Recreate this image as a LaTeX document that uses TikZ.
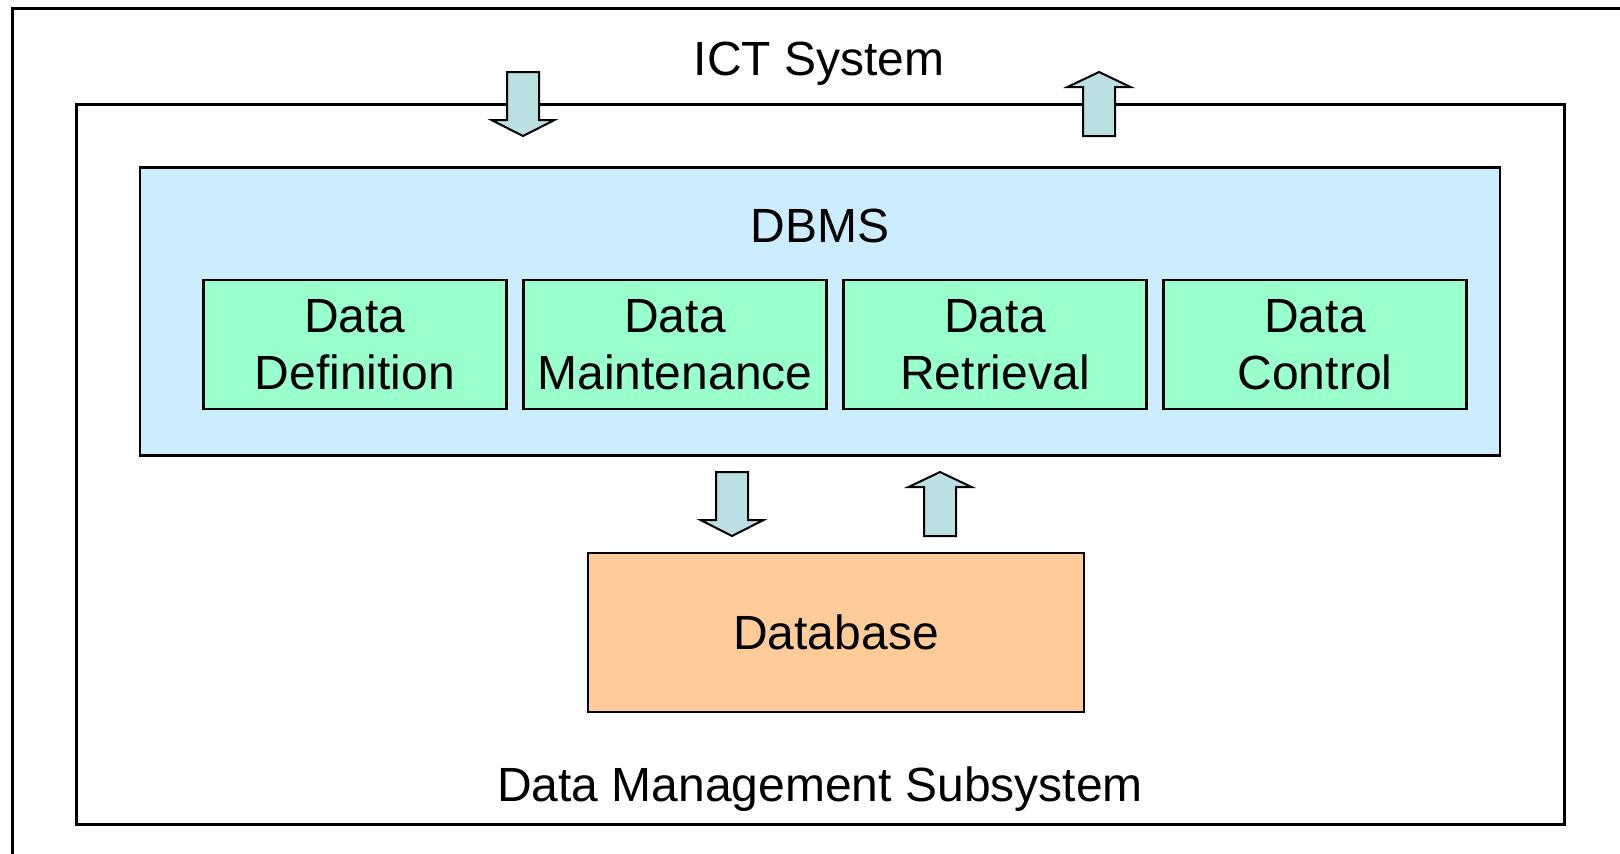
\documentclass[tikz,border=0pt]{standalone}
\usepackage{fontspec}
\setmainfont{Liberation Sans}
\definecolor{dbmsblue}{HTML}{CCECFF}
\definecolor{funcgreen}{HTML}{99FFCC}
\definecolor{dbfill}{HTML}{FFCC99}
\definecolor{flowfill}{HTML}{BBE0E3}
\tikzset{
  frame/.style={draw=black, line width=1.5pt},
  panel/.style={draw=black, line width=1.1pt, inner sep=0pt},
  funcbox/.style={panel, fill=funcgreen, minimum width=151.5pt, minimum height=64.5pt,
    align=center, font=\fontsize{24}{28.5}\selectfont},
  title/.style={inner sep=0pt, anchor=base, font=\fontsize{24}{28.8}\selectfont},
  flowshape/.style={fill=flowfill, draw=black, line width=1pt, line join=miter},
  pics/flowdown/.style={code={
    \draw[flowshape] (-16,0) -- (16,0) -- (16,48) -- (31.5,48) -- (0,64)
      -- (-31.5,48) -- (-16,48) -- cycle;}},
  pics/flowup/.style={code={
    \draw[flowshape] (0,0) -- (31.5,15) -- (16,15) -- (16,64) -- (-16,64)
      -- (-16,15) -- (-31.5,15) -- cycle;}},
}
\begin{document}
\begin{tikzpicture}[x=0.5pt, y=-0.5pt]
  \useasboundingbox (0,0) rectangle (1620,853);
  \clip (0,0) rectangle (1620,853);
  \fill[white] (0,0) rectangle (1620,853);

  % outer ICT system frame (runs past the page edge)
  \draw[frame] (12,8) rectangle (1700,950);
  \node[title] (ict) at (819,75) {ICT System};

  % data management subsystem frame
  \node[frame, minimum width=744pt, minimum height=360pt, inner sep=0pt]
    (subsys) at (820,464) {};
  \node[title] (subsyslabel) at (820,801) {Data Management Subsystem};

  % DBMS panel and its functions
  \node[panel, fill=dbmsblue, minimum width=680pt, minimum height=144pt]
    (dbms) at (820,311.5) {};
  \node[title] (dbmslabel) at (820,242) {DBMS};
  \node[funcbox] (def)  at (355,344.5)  {Data\\Definition};
  \node[funcbox] (main) at (675,344.5)  {Data\\Maintenance};
  \node[funcbox] (ret)  at (995,344.5)  {Data\\Retrieval};
  \node[funcbox] (ctrl) at (1315,344.5) {Data\\Control};

  % database
  \node[panel, fill=dbfill, minimum width=248pt, minimum height=79.5pt]
    (db) at (836,632.5) {};
  \node[title] (dblabel) at (836,649) {Database};

  % flows between the ICT system and the subsystem
  \pic at (523,72) {flowdown};
  \pic at (1099,72) {flowup};

  % flows between the DBMS and the database
  \pic at (732,472) {flowdown};
  \pic at (940,472) {flowup};
\end{tikzpicture}
\end{document}
